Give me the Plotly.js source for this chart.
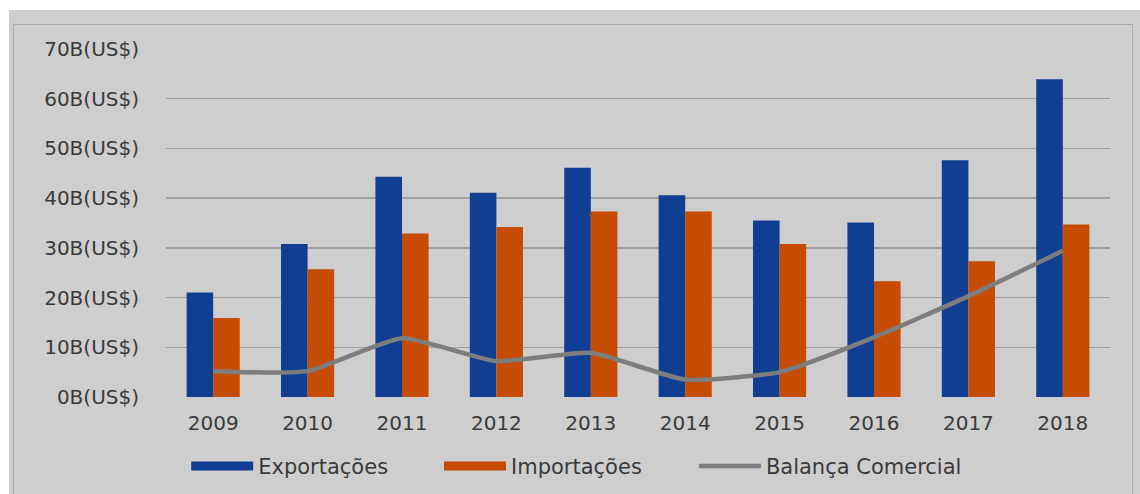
<!DOCTYPE html>
<html><head><meta charset="utf-8">
<script src="https://cdn.plot.ly/plotly-3.0.1.min.js"></script>
<style>
body{margin:0;background:#ffffff;overflow:hidden;}
#bg{position:absolute;left:9px;top:10px;width:1131px;height:484px;background:#cecece;}
#frame{position:absolute;left:13px;top:24px;width:1120px;height:480px;border:1px solid #a9a9a9;box-sizing:border-box;}
#chart{position:absolute;left:0;top:0;width:1140px;height:494px;}
</style></head><body>
<div id="bg"></div><div id="frame"></div><div id="chart"></div>
<script>
const years = ['2009','2010','2011','2012','2013','2014','2015','2016','2017','2018'];
const exportacoes = [21.0, 30.8, 44.3, 41.1, 46.1, 40.6, 35.5, 35.1, 47.6, 63.9];
const importacoes = [15.9, 25.7, 32.9, 34.2, 37.3, 37.3, 30.8, 23.3, 27.3, 34.7];
const balanca = [5.2, 5.2, 11.8, 7.2, 8.9, 3.5, 5.0, 12.0, 20.3, 29.4];
const yTickVals = [0, 10, 20, 30, 40, 50, 60, 70];
const yTickText = ['0B(US$)','10B(US$)','20B(US$)','30B(US$)','40B(US$)','50B(US$)','60B(US$)','70B(US$)'];
const seriesNames = ['Exportações','Importações','Balança Comercial'];

const cBlue = '#0f3e92', cOrange = '#c64b03', cGray = '#7d7d7d';
const font = {family: 'DejaVu Sans, sans-serif', size: 20, color: '#3a3a3a'};
const legendFont = {family: 'DejaVu Sans, sans-serif', size: 21, color: '#3a3a3a'};

const traces = [
  {type:'bar', x: years, y: exportacoes, name: seriesNames[0], marker:{color:cBlue}, showlegend:false},
  {type:'bar', x: years, y: importacoes, name: seriesNames[1], marker:{color:cOrange}, showlegend:false},
  {type:'scatter', mode:'lines', x: years, y: balanca, name: seriesNames[2], line:{color:cGray, width:4.5, shape:'spline', smoothing:0.5}, showlegend:false},
  {type:'scatter', mode:'lines', x:[null], y:[null], name: seriesNames[0], line:{color:cBlue, width:9}, legend:'legend'},
  {type:'scatter', mode:'lines', x:[null], y:[null], name: seriesNames[1], line:{color:cOrange, width:9}, legend:'legend2'},
  {type:'scatter', mode:'lines', x:[null], y:[null], name: seriesNames[2], line:{color:cGray, width:4.5}, legend:'legend3'}
];

function leg(x) {
  return {orientation:'h', x: x, xanchor:'left', y: -0.1995, yanchor:'middle', itemwidth: 62,
          font: legendFont, bgcolor:'rgba(0,0,0,0)'};
}

const layout = {
  width: 1140, height: 494,
  margin: {l: 166, r: 29.5, t: 49.3, b: 97.3, pad: 0, autoexpand: false},
  paper_bgcolor: 'rgba(0,0,0,0)',
  plot_bgcolor: 'rgba(0,0,0,0)',
  font: font,
  barmode: 'group',
  bargap: 0.437,
  bargroupgap: 0,
  xaxis: {type:'category', showgrid:false, zeroline:false, showline:false, ticks:'', tickfont: font, ticklabelstandoff: 12, automargin:false},
  yaxis: {range:[0,70], tickvals: yTickVals, ticktext: yTickText, showgrid:true, gridcolor:'#a0a0a0', gridwidth:1.4,
          zeroline:false, showline:false, ticks:'', tickfont: font, ticklabelstandoff: 26, automargin:false},
  showlegend: true,
  legend: leg(0.0214),
  legend2: leg(0.2892),
  legend3: leg(0.5592),
  hovermode: false
};

Plotly.newPlot('chart', traces, layout, {staticPlot:true, displayModeBar:false});
</script>
</body></html>
